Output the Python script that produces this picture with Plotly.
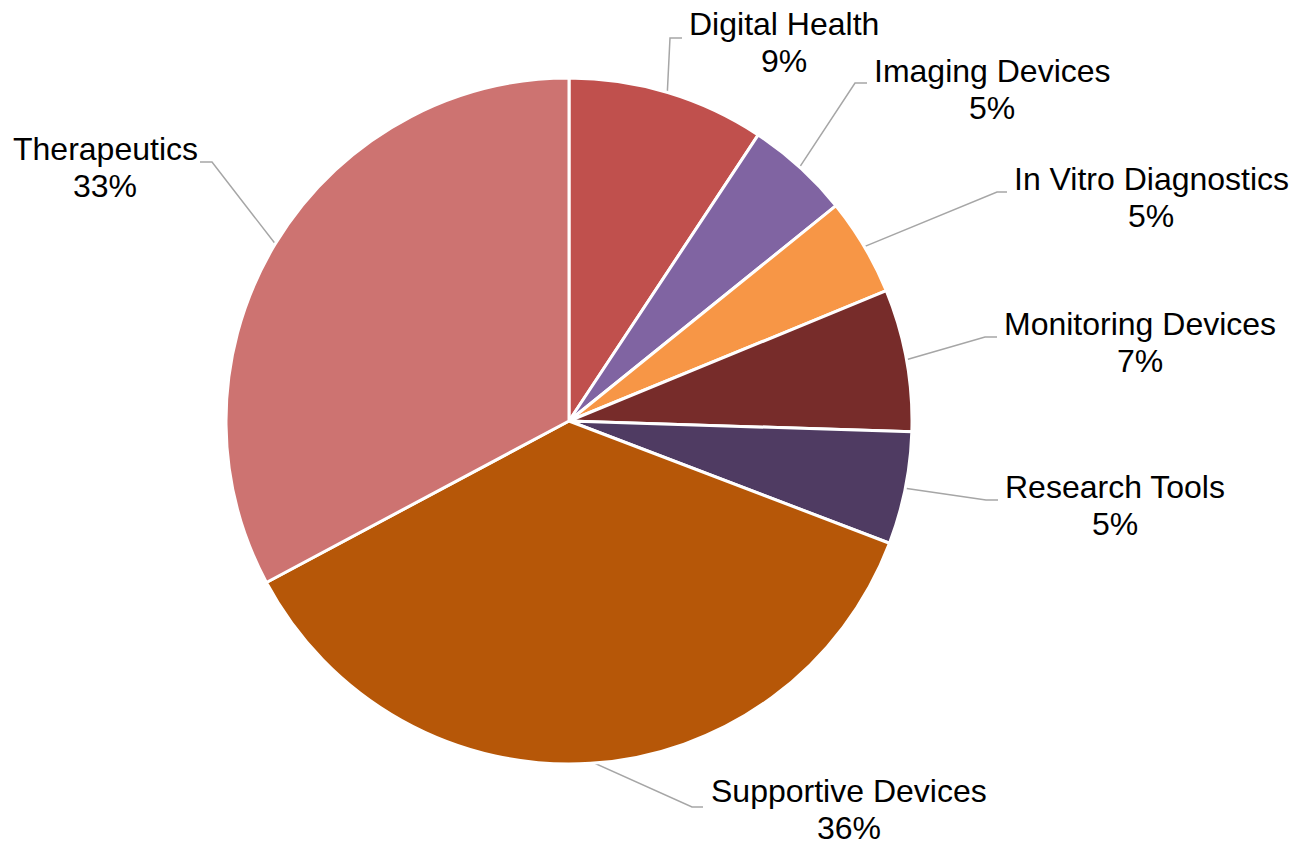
import numpy as np
import plotly.graph_objects as go

# ---- data ----
categories = ["Digital Health", "Imaging Devices", "In Vitro Diagnostics",
              "Monitoring Devices", "Research Tools", "Supportive Devices", "Therapeutics"]
shares = [9.3, 4.9, 4.6, 6.7, 5.3, 36.4, 32.8]
pct_labels = ["9%", "5%", "5%", "7%", "5%", "36%", "33%"]

# ---- style / layout ----
colors = ["#C0504D", "#8064A2", "#F79646", "#772C2A", "#4F3B62", "#B65708", "#CD7371"]
W, H = 1294, 845
cx, cy, R = 569, 421, 343

# label layout (pixel positions of label text centres and leader knees)
name_x = [784, 992, 1151, 1140, 1115, 849, 105]
name_y = [24, 71, 179, 324, 487, 791, 149]
line_gap = 37
knee_x = [670, 855, 997, 985, 986, 692, 212]
knee_y = [38, 83, 192, 337, 500, 807, 162]
tail_x = [682, 867, 1007, 997, 998, 703, 200]

fig = go.Figure()
fig.add_trace(go.Pie(
    labels=categories, values=shares, sort=False, direction="clockwise", rotation=0,
    marker=dict(colors=colors, line=dict(color="white", width=3)),
    textinfo="none", hoverinfo="label+percent", showlegend=False,
    domain=dict(x=[(cx - R) / W, (cx + R) / W], y=[(H - cy - R) / H, (H - cy + R) / H]),
))

vals = np.array(shares, dtype=float)
cum = np.cumsum(vals) / vals.sum()
mid = cum - vals / vals.sum() / 2
theta = mid * 2 * np.pi
sx = cx + (R - 2) * np.sin(theta)
sy = cy - (R - 2) * np.cos(theta)

font = dict(family="Liberation Sans, Arial, sans-serif", size=32, color="#000000")
for i in range(len(categories)):
    fig.add_trace(go.Scatter(
        x=[sx[i], knee_x[i], tail_x[i]], y=[sy[i], knee_y[i], knee_y[i]],
        mode="lines", line=dict(color="#A6A6A6", width=1.5),
        hoverinfo="skip", showlegend=False,
    ))
    fig.add_annotation(x=name_x[i], y=name_y[i], text=categories[i], showarrow=False,
                       xanchor="center", yanchor="middle", font=font)
    fig.add_annotation(x=name_x[i], y=name_y[i] + line_gap, text=pct_labels[i], showarrow=False,
                       xanchor="center", yanchor="middle", font=font)

fig.update_layout(
    width=W, height=H, margin=dict(l=0, r=0, t=0, b=0),
    paper_bgcolor="white", plot_bgcolor="white",
    xaxis=dict(range=[0, W], visible=False, fixedrange=True),
    yaxis=dict(range=[H, 0], visible=False, fixedrange=True),
)

fig.write_html("out.html", config={"displayModeBar": False},
               post_script="document.body.style.margin='0';")
